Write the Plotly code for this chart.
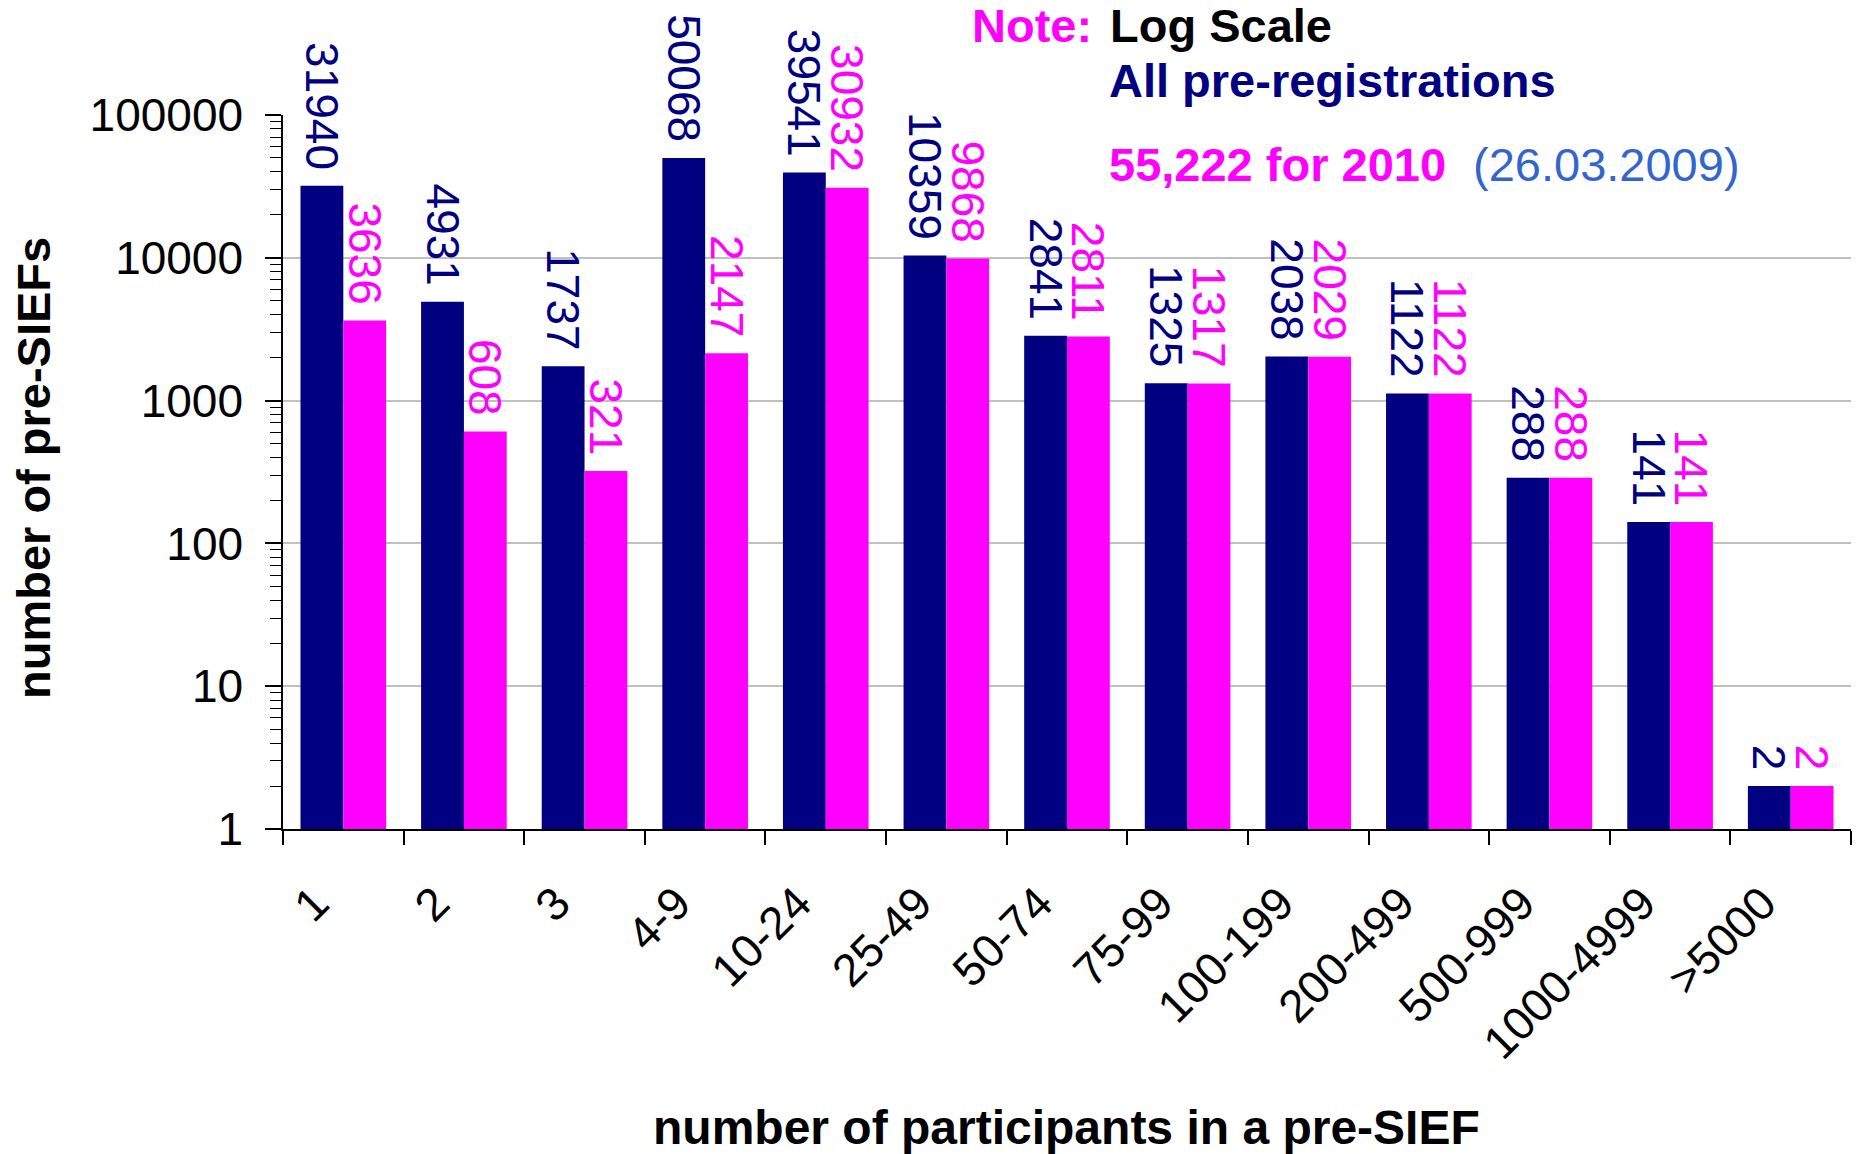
import plotly.graph_objects as go

categories = ["1", "2", "3", "4-9", "10-24", "25-49", "50-74", "75-99",
              "100-199", "200-499", "500-999", "1000-4999", ">5000"]
all_prereg = [31940, 4931, 1737, 50068, 39541, 10359, 2841, 1325, 2038, 1122, 288, 141, 2]
for_2010 = [3636, 608, 321, 2147, 30932, 9868, 2811, 1317, 2029, 1122, 288, 141, 2]
y_tickvals = [1, 10, 100, 1000, 10000, 100000]
y_ticktext = ["1", "10", "100", "1000", "10000", "100000"]

NAVY = "#000080"
MAGENTA = "#FF00FF"
FONT = "Arial, Liberation Sans, sans-serif"

W, H = 1856, 1154
L, R, T, B = 283, 5, 115, 325
PW, PH = W - L - R, H - T - B


def px(x):
    return (x - L) / PW


def py(y):
    return (H - B - y) / PH


fig = go.Figure()
for vals, col, name in [(all_prereg, NAVY, "All pre-registrations"),
                        (for_2010, MAGENTA, "for 2010")]:
    fig.add_trace(go.Bar(
        x=categories, y=vals, name=name,
        marker=dict(color=col, line=dict(width=0)),
        text=[f"{v}\u00a0" for v in vals],
        textposition="outside", textangle=90,
        textfont=dict(family=FONT, size=46, color=col),
        constraintext="none", cliponaxis=False,
    ))

fig.update_layout(
    width=W, height=H,
    margin=dict(l=L, r=R, t=T, b=B, autoexpand=False),
    paper_bgcolor="white", plot_bgcolor="white",
    barmode="group", bargap=0.29, bargroupgap=0,
    showlegend=False,
    font=dict(family=FONT, size=46, color="black"),
    xaxis=dict(
        type="category", tickson="boundaries", ticks="outside", ticklen=14,
        tickwidth=1.5, tickcolor="black", tickangle=-45,
        showline=True, linecolor="black", linewidth=1.5,
        showgrid=False, automargin=False,
        tickfont=dict(family=FONT, size=46, color="black"),
        ticklabelstandoff=27, ticklabelshift=-28,
    ),
    yaxis=dict(
        type="log", range=[0, 5],
        tickvals=y_tickvals, ticktext=y_ticktext,
        ticks="outside", ticklen=16, tickwidth=1.5, tickcolor="black",
        showline=True, linecolor="black", linewidth=1.5,
        showgrid=True, gridcolor="#C0C0C0", gridwidth=2,
        zeroline=False, automargin=False,
        tickfont=dict(family=FONT, size=46, color="black"),
        ticklabelstandoff=13,
        minor=dict(ticks="outside", ticklen=11, tickwidth=1.2, tickcolor="black",
                   dtick="D1", showgrid=False),
    ),
)

ann = [
    dict(text="<b>number of participants in a pre-SIEF</b>", x=px(1066), y=py(1127),
         xanchor="center", yanchor="middle", font=dict(size=48, color="black")),
    dict(text="<b>number of pre-SIEFs</b>", x=px(33), y=py(468), textangle=-90,
         xanchor="center", yanchor="middle", font=dict(size=47, color="black")),
    dict(text="<b>Note:</b>", x=px(1094), y=py(25), xanchor="right", yanchor="middle",
         font=dict(size=47, color=MAGENTA)),
    dict(text="<b>Log Scale</b>", x=px(1108), y=py(25), xanchor="left", yanchor="middle",
         font=dict(size=47, color="black")),
    dict(text="<b>All pre-registrations</b>", x=px(1107), y=py(81), xanchor="left",
         yanchor="middle", font=dict(size=47, color=NAVY)),
    dict(text="<b>55,222 for 2010</b>", x=px(1107), y=py(164), xanchor="left",
         yanchor="middle", font=dict(size=47, color=MAGENTA)),
    dict(text="(26.03.2009)", x=px(1471), y=py(164), xanchor="left",
         yanchor="middle", font=dict(size=47, color="#3366CC")),
]
for a in ann:
    a.update(xref="paper", yref="paper", showarrow=False)
    a["font"]["family"] = FONT
    fig.add_annotation(**a)

fig.write_html("out.html", config={"displayModeBar": False},
               post_script="document.body.style.margin='0';")
